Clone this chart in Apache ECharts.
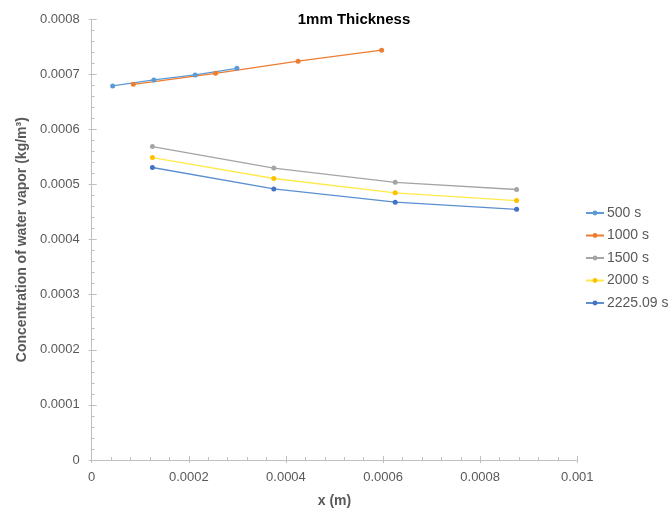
<!DOCTYPE html>
<html>
<head>
<meta charset="utf-8">
<script src="https://cdn.jsdelivr.net/npm/echarts@6/dist/echarts.min.js"></script>
<style>html,body{margin:0;padding:0;background:#fff;overflow:hidden;}#c{width:672px;height:513px;}</style>
</head>
<body>
<div id="c"></div>
<script>
const seriesNames = ['500 s', '1000 s', '1500 s', '2000 s', '2225.09 s'];
const x500 = [0.0000432, 0.000128, 0.000213, 0.000299];
const y500 = [0.000679, 0.000690, 0.000699, 0.000711];
const x1000 = [0.0000857, 0.000255, 0.000425, 0.000597];
const y1000 = [0.000682, 0.000702, 0.000724, 0.000744];
const xLate = [0.000125, 0.000375, 0.000625, 0.000875];
const y1500 = [0.000569, 0.000530, 0.000504, 0.000491];
const y2000 = [0.000549, 0.000511, 0.000485, 0.000471];
const y2225 = [0.000531, 0.000492, 0.000468, 0.000455];
const colors = ['#5B9BD5', '#ED7D31', '#A5A5A5', '#FFC000', '#4472C4'];
const lineColors = ['#5B9BD5', '#ED7D31', '#A5A5A5', '#FFE94A', '#5B8FD0'];

const xs = [x500, x1000, xLate, xLate, xLate];
const ys = [y500, y1000, y1500, y2000, y2225];

const fmt = v => v === 0 ? '0' : String(parseFloat(v.toFixed(6)));
const axisGray = '#BFBFBF';

const chart = echarts.init(document.getElementById('c'), null, {width: 672, height: 513});
chart.setOption({
  animation: false,
  title: {
    text: '1mm Thickness', left: 354, top: 12, textAlign: 'center', padding: 0,
    textStyle: {fontFamily: 'Liberation Sans', fontSize: 15, fontWeight: 'bold', color: '#000'}
  },
  legend: {
    orient: 'vertical', left: 585, top: 206, padding: 0, itemWidth: 18, itemHeight: 6, itemGap: 8.5,
    textStyle: {fontFamily: 'Liberation Sans', fontSize: 14, color: '#595959', padding: [0, 0, 0, -2]},
    data: seriesNames
  },
  grid: {left: 91.7, width: 485.6, top: 19.3, height: 440.7, containLabel: false},
  xAxis: [{
    type: 'value', min: 0, max: 0.001, interval: 0.0002,
    name: 'x (m)', nameLocation: 'middle', nameGap: 34,
    nameTextStyle: {fontFamily: 'Liberation Sans', fontSize: 14, fontWeight: 'bold', color: '#595959'},
    axisLine: {lineStyle: {color: axisGray, width: 1}},
    axisTick: {show: true, inside: true, length: 4, lineStyle: {color: axisGray}},
    minorTick: {show: true, splitNumber: 5, length: 3, lineStyle: {color: axisGray}},
    splitLine: {show: false},
    axisLabel: {formatter: fmt, fontFamily: 'Liberation Sans', fontSize: 13, color: '#595959', margin: 11}
  }, {
    type: 'value', min: 0, max: 0.001, interval: 0.0002, position: 'bottom',
    axisLine: {show: false},
    axisTick: {show: true, inside: false, length: 3, lineStyle: {color: axisGray}},
    axisLabel: {show: false}, splitLine: {show: false}
  }],
  yAxis: [{
    type: 'value', min: 0, max: 0.0008, interval: 0.0001,
    name: 'Concentration of water vapor (kg/m³)', nameLocation: 'middle', nameGap: 63,
    nameTextStyle: {fontFamily: 'Liberation Sans', fontSize: 14, fontWeight: 'bold', color: '#595959'},
    axisLine: {show: true, lineStyle: {color: axisGray, width: 1}},
    axisTick: {show: true, inside: true, length: 5, lineStyle: {color: axisGray}},
    minorTick: {show: true, splitNumber: 5, length: 3, lineStyle: {color: axisGray}},
    splitLine: {show: false},
    axisLabel: {formatter: fmt, fontFamily: 'Liberation Sans', fontSize: 13, color: '#595959', margin: 12}
  }, {
    type: 'value', min: 0, max: 0.0008, interval: 0.0001, position: 'left',
    axisLine: {show: false},
    axisTick: {show: true, inside: false, length: 3, lineStyle: {color: axisGray}},
    axisLabel: {show: false}, splitLine: {show: false}
  }],
  series: seriesNames.map((n, i) => ({
    name: n, type: 'line',
    data: xs[i].map((x, j) => [x, ys[i][j]]),
    symbol: 'circle', symbolSize: 5,
    itemStyle: {color: colors[i]},
    lineStyle: {color: lineColors[i], width: 1.3}
  }))
});
</script>
</body>
</html>
